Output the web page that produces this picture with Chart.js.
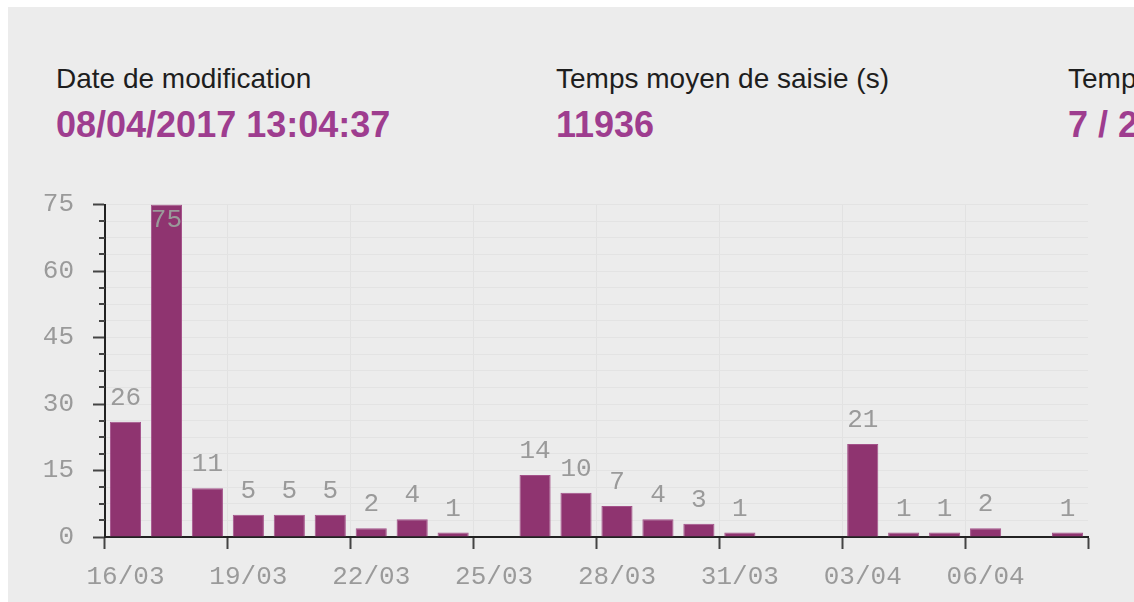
<!DOCTYPE html>
<html>
<head>
<meta charset="utf-8">
<script src="https://cdn.jsdelivr.net/npm/chart.js@4/dist/chart.umd.min.js"></script>
<style>
  html, body { margin: 0; padding: 0; background: #fff; overflow: hidden; }
  body { width: 1134px; height: 602px; position: relative; font-family: "Liberation Sans", Arial, sans-serif; }
  .panel { position: absolute; left: 8px; top: 7px; right: 0; bottom: 0; background: #ececec; }
  .lbl { position: absolute; font-size: 28px; line-height: 1; color: #1e1e1e; white-space: nowrap; }
  .val { position: absolute; font-size: 36px; line-height: 1; font-weight: bold; color: #9e3d8f; white-space: nowrap; }
  .chart-box { position: absolute; left: 0; top: 170px; width: 1134px; height: 432px; }
</style>
</head>
<body>
<div class="panel"></div>
<div class="lbl" style="left:56px; top:65px;">Date de modification</div>
<div class="val" style="left:56px; top:107px;">08/04/2017 13:04:37</div>
<div class="lbl" style="left:556px; top:65px;">Temps moyen de saisie (s)</div>
<div class="val" style="left:556px; top:107px;">11936</div>
<div class="lbl" style="left:1068px; top:65px;">Temps</div>
<div class="val" style="left:1068px; top:107px;">7 / 2</div>
<div class="chart-box"><canvas id="myChart"></canvas></div>
<script>
const days = ['16/03', '17/03', '18/03', '19/03', '20/03', '21/03', '22/03', '23/03',
  '24/03', '25/03', '26/03', '27/03', '28/03', '29/03', '30/03', '31/03',
  '01/04', '02/04', '03/04', '04/04', '05/04', '06/04', '07/04', '08/04'];
const saisies = [26, 75, 11, 5, 5, 5, 2, 4, 1, null, 14, 10, 7, 4, 3, 1,
  null, null, 21, 1, 1, 2, null, 1];
const yMax = 75;
const yStep = 3.75;
const yLabelStep = 15;

document.addEventListener('DOMContentLoaded', function () {
  const ctx = document.getElementById('myChart').getContext('2d');
  const monoFont = { family: '"Liberation Mono", "DejaVu Sans Mono", monospace', size: 26 };

  // valeurs au-dessus des barres
  const valueLabels = {
    id: 'valueLabels',
    afterDatasetsDraw(chart) {
      const c = chart.ctx;
      const top = chart.chartArea.top;
      c.save();
      c.font = '26px "Liberation Mono", "DejaVu Sans Mono", monospace';
      c.fillStyle = '#9a9a9a';
      c.textAlign = 'center';
      c.textBaseline = 'alphabetic';
      chart.getDatasetMeta(0).data.forEach((bar, i) => {
        const v = saisies[i];
        if (v === null || v === undefined) return;
        const y = Math.max(bar.y - 17, top + 22);
        c.fillText(String(v), bar.x, y);
      });
      c.restore();
    }
  };

  // petits traits de graduation secondaires sur l'axe y
  const minorTicks = {
    id: 'minorTicks',
    afterDraw(chart) {
      const c = chart.ctx;
      const y = chart.scales.y;
      const left = chart.chartArea.left;
      c.save();
      c.strokeStyle = '#444';
      c.lineWidth = 2;
      y.ticks.forEach(t => {
        if (t.value % yLabelStep === 0) return;
        const py = Math.round(y.getPixelForValue(t.value));
        c.beginPath();
        c.moveTo(left - 6, py);
        c.lineTo(left, py);
        c.stroke();
      });
      c.restore();
    }
  };

  const chartConfig = {
    type: 'bar',
    data: {
      labels: days,
      datasets: [{
        label: 'Saisies',
        data: saisies,
        backgroundColor: '#8f3470',
        borderColor: '#a4528a',
        borderWidth: 1,
        barPercentage: 0.76,
        categoryPercentage: 1,
      }],
    },
    options: {
      responsive: true,
      maintainAspectRatio: false,
      animation: false,
      layout: { padding: { top: 13, right: 46, left: 0, bottom: 0 } },
      plugins: {
        legend: { display: false },
        tooltip: { enabled: false },
      },
      scales: {
        x: {
          offset: true,
          afterFit: s => { s.height = 65; },
          border: { display: true, color: '#222', width: 2 },
          grid: {
            offset: true,
            tickLength: 12,
            tickWidth: 2,
            color: c => (c.index !== undefined && c.index % 3 === 0) ? '#e2e2e2' : 'rgba(0,0,0,0)',
            tickColor: c => (c.index === undefined || c.index % 3 === 0) ? '#444' : 'rgba(0,0,0,0)',
          },
          ticks: {
            autoSkip: false,
            maxRotation: 0,
            padding: 13,
            color: '#9a9a9a',
            font: monoFont,
            callback: (v, i) => i % 3 === 0 ? days[i] : '',
          },
        },
        y: {
          min: 0,
          max: yMax,
          afterFit: s => { s.width = 105; },
          border: { display: true, color: '#222', width: 2 },
          grid: {
            tickLength: 12,
            tickWidth: 2,
            color: '#e3e3e3',
            tickColor: c => (c.tick && c.tick.value % yLabelStep === 0) ? '#444' : 'rgba(0,0,0,0)',
          },
          ticks: {
            stepSize: yStep,
            autoSkip: false,
            padding: 19,
            color: '#9a9a9a',
            font: monoFont,
            callback: v => v % yLabelStep === 0 ? v : '',
          },
        },
      },
    },
    plugins: [valueLabels, minorTicks],
  };

  new Chart(ctx, chartConfig);
});
</script>
</body>
</html>
